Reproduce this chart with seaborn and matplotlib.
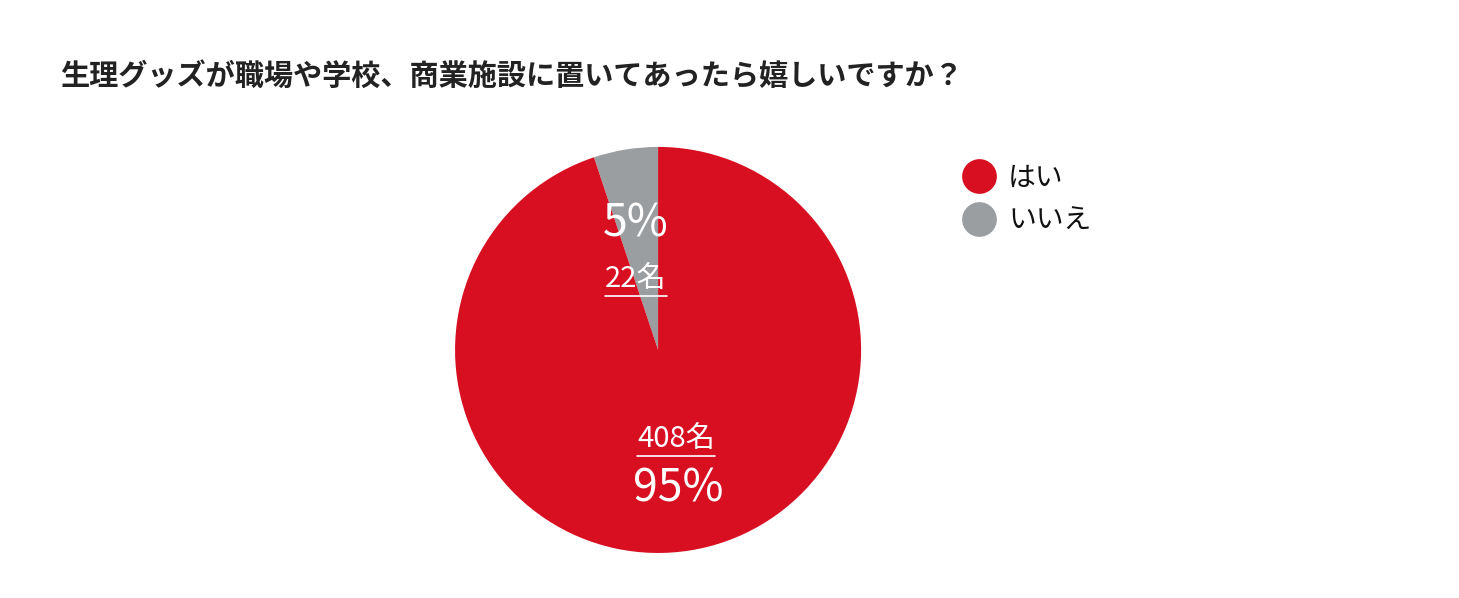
import numpy as np
import matplotlib
matplotlib.use("Agg")
import matplotlib.pyplot as plt
import seaborn as sns
from matplotlib.lines import Line2D

sns.set_theme(style="white")
plt.rcParams['font.family'] = ['Noto Sans CJK JP', 'DejaVu Sans']

title = "生理グッズが職場や学校、商業施設に置いてあったら嬉しいですか？"
answers = ["いいえ", "はい"]
counts = [22, 408]
percents = ["5%", "95%"]
legend_order = ["はい", "いいえ"]
colors = {"はい": "#D70F20", "いいえ": "#9B9EA1"}

fig = plt.figure(figsize=(14.59, 5.98), dpi=100)
fig.patch.set_facecolor("white")
ax = fig.add_axes([0.3119, 0.0753, 0.2783, 0.679])

wedges, _ = ax.pie(counts, colors=[colors[a] for a in answers], startangle=90,
                   counterclock=True, radius=1.0, wedgeprops=dict(linewidth=0))
ax.set_xlim(-1, 1)
ax.set_ylim(-1, 1)
ax.set_aspect("equal")
ax.axis("off")

# label placement inside the pie (pie units): percent xy, count xy
lab_pos = {"いいえ": ((-0.11, 0.625), (-0.11, 0.345)),
           "はい": ((0.10, -0.68), (0.09, -0.445))}
count_texts = []
for a, c, p in zip(answers, counts, percents):
    (px, py), (cx, cy) = lab_pos[a]
    ax.text(px, py, p, color="white", fontsize=32, ha="center", va="center")
    t = ax.text(cx, cy, f"{c}名", color="white", fontsize=21, ha="center", va="center")
    count_texts.append(t)

fig.text(60 / 1459, 1 - 76 / 598, title, fontsize=21, fontweight="bold",
         color="#222222", ha="left", va="center")

# legend
handles = [Line2D([0], [0], marker="o", linestyle="", markersize=25,
                  markerfacecolor=colors[a], markeredgewidth=0) for a in legend_order]
leg = fig.legend(handles, legend_order, loc="upper left", bbox_to_anchor=(951 / 1459, 1 - 152 / 598),
                 frameon=False, fontsize=20, handletextpad=0.45, labelspacing=0.45,
                 borderaxespad=0, handlelength=1.2)
for txt in leg.get_texts():
    txt.set_color("#111111")

# underline the count labels
fig.canvas.draw()
r = fig.canvas.get_renderer()
for t in count_texts:
    bb = t.get_window_extent(renderer=r)
    y = bb.y0 - 1
    fig.add_artist(Line2D([bb.x0 / fig.bbox.width, bb.x1 / fig.bbox.width],
                          [y / fig.bbox.height, y / fig.bbox.height],
                          color="white", linewidth=1.2, transform=fig.transFigure))

fig.savefig("out.png", dpi=100, facecolor="white")
